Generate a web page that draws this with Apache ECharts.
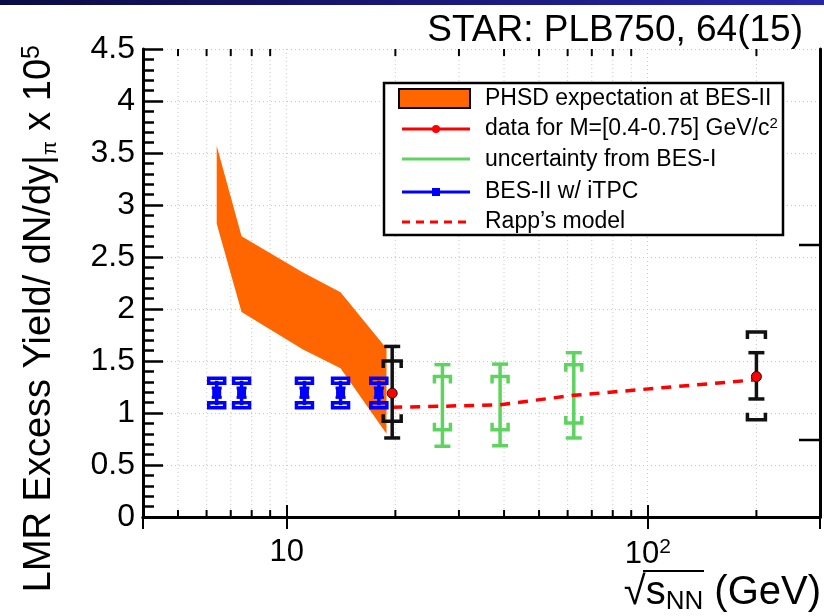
<!DOCTYPE html>
<html>
<head>
<meta charset="utf-8">
<script src="https://cdn.jsdelivr.net/npm/echarts@6/dist/echarts.min.js"></script>
<style>
  html, body { margin: 0; padding: 0; background: #fff; }
  #main { width: 824px; height: 616px; }
</style>
</head>
<body>
<div id="main"></div>
<script>
  // PHSD expectation band (upper / lower edge)
  var phsdX  = [6.4, 7.5, 11.1, 14.1, 18.9];
  var phsdHi = [3.57, 2.70, 2.35, 2.16, 1.62];
  var phsdLo = [2.82, 1.97, 1.61, 1.43, 0.80];

  // BES-II w/ iTPC projection
  var bes2X      = [6.4, 7.5, 11.2, 14.1, 18.0];
  var bes2Y      = [1.195, 1.195, 1.195, 1.195, 1.195];
  var bes2StatLo = [1.15, 1.15, 1.15, 1.15, 1.15];
  var bes2StatHi = [1.24, 1.24, 1.24, 1.24, 1.24];
  var bes2SysLo  = [1.075, 1.075, 1.075, 1.075, 1.075];
  var bes2SysHi  = [1.31, 1.31, 1.31, 1.31, 1.31];

  // STAR data, M = [0.4-0.75] GeV/c2
  var dataX      = [19.6, 200];
  var dataY      = [1.19, 1.35];
  var dataStatLo = [0.76, 1.135];
  var dataStatHi = [1.64, 1.58];
  var dataSysLo  = [0.92, 0.935];
  var dataSysHi  = [1.50, 1.78];

  // uncertainty from BES-I
  var bes1X      = [27, 39, 62.4];
  var bes1StatLo = [0.68, 0.685, 0.76];
  var bes1StatHi = [1.465, 1.47, 1.58];
  var bes1SysLo  = [0.84, 0.84, 0.905];
  var bes1SysHi  = [1.35, 1.35, 1.465];

  // Rapp's model
  var rappX = [19.6, 27, 39, 62.4, 200];
  var rappY = [1.055, 1.065, 1.08, 1.17, 1.32];

  // log-axis minor ticks
  var minorX = [5, 6, 7, 8, 9, 20, 30, 40, 50, 60, 70, 80, 90, 200];

  var FONT = 'Liberation Sans, Arial, sans-serif';
  var ORANGE = '#ff6600', GREEN = '#5fd35f', BLUE = '#0000ff', RED = '#ff0000', INK = '#111';

  function vline(a, b, color, w) {
    return { type: 'line', shape: { x1: a[0], y1: a[1], x2: b[0], y2: b[1] }, style: { stroke: color, lineWidth: w } };
  }
  function cap(p, half, color, w) {
    return vline([p[0] - half, p[1]], [p[0] + half, p[1]], color, w);
  }
  // bracket for sys. errors; dir = +1 legs down, -1 legs up
  function bracket(p, half, leg, dir, color, w) {
    return {
      type: 'polyline',
      shape: { points: [[p[0] - half, p[1] + dir * leg], [p[0] - half, p[1]], [p[0] + half, p[1]], [p[0] + half, p[1] + dir * leg]] },
      style: { stroke: color, lineWidth: w, fill: null }
    };
  }

  var myChart = echarts.init(document.getElementById('main'));

  var option = {
    animation: false,
    grid: { left: 143, top: 49, width: 677, height: 468, show: false },
    xAxis: [{
      type: 'log', logBase: 10, min: 4, max: 300,
      axisLine: { lineStyle: { color: '#000', width: 3 } },
      axisTick: { inside: true, length: 12, lineStyle: { color: '#000', width: 2 } },
      axisLabel: {
        fontFamily: FONT, fontSize: 31, color: '#000', margin: 20,
        formatter: function (v) {
          if (Math.abs(v - 10) < 1e-6) return '10';
          if (Math.abs(v - 100) < 1e-6) return '10{sup|2}';
          return '';
        },
        rich: { sup: { fontFamily: FONT, fontSize: 21, verticalAlign: 'top', padding: [0, 0, 14, 0] } }
      },
      splitLine: { show: true, lineStyle: { color: '#c8c8c8', type: [1, 3], width: 1 } }
    }, {
      type: 'log', logBase: 10, min: 4, max: 300, position: 'top',
      axisLine: { lineStyle: { color: '#000', width: 3 } },
      axisTick: { inside: true, length: 12, lineStyle: { color: '#000', width: 2 } },
      axisLabel: { show: false },
      splitLine: { show: false }
    }],
    yAxis: [{
      type: 'value', min: 0, max: 4.5, interval: 0.5,
      axisLine: { show: true, lineStyle: { color: '#000', width: 3 } },
      axisTick: { inside: true, length: 20, lineStyle: { color: '#000', width: 2.5 } },
      minorTick: { show: true, splitNumber: 5, length: 11, lineStyle: { color: '#000', width: 2.5 } },
      axisLabel: { fontFamily: FONT, fontSize: 32, color: '#000', margin: 8 },
      splitLine: { show: true, lineStyle: { color: '#c8c8c8', type: [1, 3], width: 1 } }
    }, {
      type: 'value', min: 0, max: 4.5, interval: 0.5, position: 'right',
      axisLine: { show: true, lineStyle: { color: '#000', width: 3 } },
      axisTick: { show: false }, axisLabel: { show: false }, splitLine: { show: false }
    }],
    series: [
      {
        name: 'minor', type: 'custom', silent: true, z: 1,
        data: minorX.map(function (v) { return [v, 0]; }),
        renderItem: function (params, api) {
          var v = api.value(0);
          var b = api.coord([v, 0]), t = api.coord([v, 4.5]);
          return { type: 'group', children: [
            { type: 'line', shape: { x1: b[0], y1: b[1], x2: t[0], y2: t[1] }, style: { stroke: '#c8c8c8', lineWidth: 1, lineDash: [1, 3] } },
            vline(b, [b[0], b[1] - 7], '#000', 2),
            vline(t, [t[0], t[1] + 7], '#000', 2)
          ] };
        }
      },
      {
        name: 'PHSD expectation at BES-II', type: 'custom', z: 3,
        data: phsdX.map(function (x, i) { return [x, phsdHi[i], phsdLo[i]]; }),
        renderItem: function (params, api) {
          if (params.dataIndex !== 0) return null;
          var pts = [], i;
          for (i = 0; i < phsdX.length; i++) pts.push(api.coord([phsdX[i], phsdHi[i]]));
          for (i = phsdX.length - 1; i >= 0; i--) pts.push(api.coord([phsdX[i], phsdLo[i]]));
          return { type: 'polygon', shape: { points: pts }, style: { fill: ORANGE } };
        }
      },
      {
        name: 'BES-II w/ iTPC', type: 'custom', z: 4,
        data: bes2X.map(function (x, i) { return [x, bes2Y[i], bes2StatLo[i], bes2StatHi[i], bes2SysLo[i], bes2SysHi[i]]; }),
        renderItem: function (params, api) {
          var x = api.value(0);
          var c = api.coord([x, api.value(1)]);
          var sl = api.coord([x, api.value(2)]), sh = api.coord([x, api.value(3)]);
          var yl = api.coord([x, api.value(4)]), yh = api.coord([x, api.value(5)]);
          function box(p) {
            return { type: 'rect', shape: { x: p[0] - 8, y: p[1] - 2.5, width: 16, height: 5 }, style: { stroke: BLUE, lineWidth: 3.5, fill: null } };
          }
          return { type: 'group', children: [
            vline(yl, yh, BLUE, 3.5),
            box(yh), box(yl),
            cap(sh, 5, BLUE, 3), cap(sl, 5, BLUE, 3),
            { type: 'rect', shape: { x: c[0] - 4.5, y: c[1] - 5, width: 9, height: 10 }, style: { fill: BLUE } }
          ] };
        }
      },
      {
        name: 'uncertainty from BES-I', type: 'custom', z: 4,
        data: bes1X.map(function (x, i) { return [x, bes1StatLo[i], bes1StatHi[i], bes1SysLo[i], bes1SysHi[i]]; }),
        renderItem: function (params, api) {
          var x = api.value(0);
          var sl = api.coord([x, api.value(1)]), sh = api.coord([x, api.value(2)]);
          var yl = api.coord([x, api.value(3)]), yh = api.coord([x, api.value(4)]);
          return { type: 'group', children: [
            vline(sl, sh, GREEN, 3.5),
            cap(sh, 8, GREEN, 3.5), cap(sl, 8, GREEN, 3.5),
            bracket(yh, 8, 7, 1, GREEN, 3.5), bracket(yl, 8, 7, -1, GREEN, 3.5)
          ] };
        }
      },
      {
        name: "Rapp's model", type: 'line', z: 5,
        data: rappX.map(function (x, i) { return [x, rappY[i]]; }),
        showSymbol: false, symbol: 'none',
        lineStyle: { color: RED, width: 3.5, type: [10, 8] }
      },
      {
        name: 'data for M=[0.4-0.75] GeV/c2', type: 'custom', z: 6,
        data: dataX.map(function (x, i) { return [x, dataY[i], dataStatLo[i], dataStatHi[i], dataSysLo[i], dataSysHi[i]]; }),
        renderItem: function (params, api) {
          var x = api.value(0);
          var c = api.coord([x, api.value(1)]);
          var sl = api.coord([x, api.value(2)]), sh = api.coord([x, api.value(3)]);
          var yl = api.coord([x, api.value(4)]), yh = api.coord([x, api.value(5)]);
          return { type: 'group', children: [
            vline(sl, sh, INK, 3.5),
            cap(sh, 8, INK, 3.5), cap(sl, 8, INK, 3.5),
            bracket(yh, 9, 7, 1, INK, 3.5), bracket(yl, 9, 7, -1, INK, 3.5),
            { type: 'circle', shape: { cx: c[0], cy: c[1], r: 5 }, style: { fill: RED, stroke: INK, lineWidth: 1 } }
          ] };
        }
      }
    ],
    graphic: [
      { type: 'rect', z: 100, shape: { x: 0, y: 0, width: 824, height: 5 },
        style: { fill: new echarts.graphic.LinearGradient(0, 0, 1, 0, [{ offset: 0, color: '#0b0b45' }, { offset: 1, color: '#2626a8' }]) } },
      { type: 'text', z: 100, x: 803, y: 31,
        style: { text: 'STAR: PLB750, 64(15)', font: '37px ' + FONT, fill: '#000', textAlign: 'right', textVerticalAlign: 'middle' } },
      { type: 'text', z: 100, x: 40, y: 45, rotation: Math.PI / 2,
        style: {
          text: 'LMR Excess Yield/ dN/dy|{sub|π} x 10{sup|5}',
          font: '38px ' + FONT, fill: '#000', textAlign: 'right', textVerticalAlign: 'middle',
          rich: {
            sub: { fontFamily: FONT, fontSize: 20, verticalAlign: 'bottom', padding: [14, 0, 0, 0] },
            sup: { fontFamily: FONT, fontSize: 25, verticalAlign: 'top', padding: [0, 0, 16, 0] }
          }
        } },
      { type: 'text', z: 100, x: 821, y: 593,
        style: {
          text: '√{s|s}{sub|NN} (GeV)', font: '40px ' + FONT, fill: '#000', textAlign: 'right', textVerticalAlign: 'middle',
          rich: {
            s: { fontFamily: FONT, fontSize: 40 },
            sub: { fontFamily: FONT, fontSize: 26, verticalAlign: 'bottom', padding: [18, 0, 0, 0] }
          }
        } },
      // radical overline over s_NN
      { type: 'line', z: 100, shape: { x1: 643, y1: 571, x2: 704, y2: 571 }, style: { stroke: '#000', lineWidth: 2 } },
      // stray long ticks on the right frame
      { type: 'line', z: 100, shape: { x1: 799, y1: 245, x2: 820, y2: 245 }, style: { stroke: '#000', lineWidth: 2.5 } },
      { type: 'line', z: 100, shape: { x1: 799, y1: 440, x2: 820, y2: 440 }, style: { stroke: '#000', lineWidth: 2.5 } },
      // legend
      { type: 'group', x: 384, y: 83, z: 100, children: [
        { type: 'rect', z: 100, shape: { x: 0, y: 0, width: 399, height: 152 }, style: { fill: '#fff', stroke: '#000', lineWidth: 2.5 } },
        { type: 'rect', z: 101, shape: { x: 15, y: 6, width: 71, height: 19 }, style: { fill: ORANGE, stroke: '#000', lineWidth: 2 } },
        { type: 'line', z: 101, shape: { x1: 18, y1: 46, x2: 86, y2: 46 }, style: { stroke: RED, lineWidth: 3 } },
        { type: 'circle', z: 102, shape: { cx: 52, cy: 46, r: 4 }, style: { fill: RED } },
        { type: 'line', z: 101, shape: { x1: 18, y1: 76, x2: 86, y2: 76 }, style: { stroke: GREEN, lineWidth: 3 } },
        { type: 'line', z: 101, shape: { x1: 18, y1: 109, x2: 86, y2: 109 }, style: { stroke: BLUE, lineWidth: 3 } },
        { type: 'rect', z: 102, shape: { x: 48, y: 105, width: 8, height: 8 }, style: { fill: BLUE } },
        { type: 'line', z: 101, shape: { x1: 18, y1: 139, x2: 86, y2: 139 }, style: { stroke: RED, lineWidth: 3, lineDash: [8, 6] } },
        { type: 'text', z: 101, x: 101, y: 16, style: { text: 'PHSD expectation at BES-II', font: '23px ' + FONT, fill: '#000', textVerticalAlign: 'middle' } },
        { type: 'text', z: 101, x: 101, y: 46, style: { text: 'data for M=[0.4-0.75] GeV/c{sup|2}', font: '23px ' + FONT, fill: '#000', textVerticalAlign: 'middle',
            rich: { sup: { fontFamily: FONT, fontSize: 15, verticalAlign: 'top', padding: [0, 0, 10, 0] } } } },
        { type: 'text', z: 101, x: 101, y: 77, style: { text: 'uncertainty from BES-I', font: '23px ' + FONT, fill: '#000', textVerticalAlign: 'middle' } },
        { type: 'text', z: 101, x: 101, y: 109, style: { text: 'BES-II w/ iTPC', font: '23px ' + FONT, fill: '#000', textVerticalAlign: 'middle' } },
        { type: 'text', z: 101, x: 101, y: 139, style: { text: 'Rapp\u2019s model', font: '23px ' + FONT, fill: '#000', textVerticalAlign: 'middle' } }
      ] }
    ]
  };
  myChart.setOption(option);
</script>
</body>
</html>
